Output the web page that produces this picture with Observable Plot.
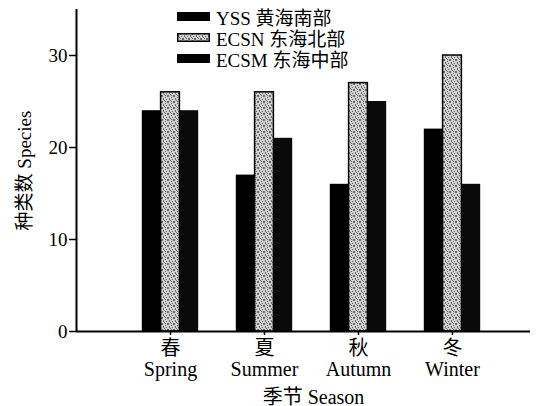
<!DOCTYPE html>
<html>
<head>
<meta charset="utf-8">
<script src="https://cdn.jsdelivr.net/npm/d3@7"></script>
<script src="https://cdn.jsdelivr.net/npm/@observablehq/plot@0.6"></script>
<style>
  html, body { margin: 0; padding: 0; background: #fff; }
  #wrap { position: relative; width: 546px; height: 406px; font-family: "Liberation Serif", "Noto Sans CJK SC", serif; }
  #legend { position: absolute; left: 177px; top: 6px; font-size: 19px; color: #000; }
  .row { display: flex; align-items: center; height: 21px; }
  .sw { width: 33px; height: 9px; margin-right: 6px; box-sizing: border-box; }
</style>
</head>
<body>
<div id="wrap"><div id="legend"></div></div>
<script>
// ---- data ----
const seasonsCN = ["春", "夏", "秋", "冬"];
const seasonsEN = ["Spring", "Summer", "Autumn", "Winter"];
const seriesNames = ["YSS 黄海南部", "ECSN 东海北部", "ECSM 东海中部"];
const yss  = [24, 17, 16, 22];
const ecsn = [26, 26, 27, 30];
const ecsm = [24, 21, 25, 16];
const yTicks = [0, 10, 20, 30];
const yLabel = "种类数 Species";
const xLabel = "季节 Season";

const seriesValues = [yss, ecsn, ecsm];
const fills = ["#000", "url(#stipple)", "#0a0a0a"];
const barW = 0.2;
const offsets = [-0.3, -0.1, 0.1];

const tables = seriesValues.map((vals, s) =>
  vals.map((v, i) => ({season: i + 1, series: seriesNames[s], value: v, s})));

const font = '"Liberation Serif", "Noto Sans CJK SC", serif';

const chart = Plot.plot({
  width: 546,
  height: 406,
  marginLeft: 76,
  marginRight: 16,
  marginTop: 9,
  marginBottom: 75,
  style: {fontFamily: font, color: "#000", background: "#fff", overflow: "visible"},
  x: {domain: [0, 4.83]},
  y: {domain: [0, 35]},
  marks: [
    ...tables.map((t, s) => Plot.rectY(t, {
      x1: d => d.season + offsets[s],
      x2: d => d.season + offsets[s] + barW,
      y: "value",
      fill: fills[s],
      stroke: s === 1 ? "#000" : "none",
      strokeWidth: 1.5
    })),
    Plot.ruleY([0], {stroke: "#000", strokeWidth: 2}),
    Plot.ruleX([0], {stroke: "#000", strokeWidth: 2}),
    Plot.axisY({ticks: yTicks, tickSize: 7, tickPadding: 2, fontSize: 19, label: null, strokeWidth: 1.5}),
    Plot.axisX({
      ticks: [1, 2, 3, 4],
      tickFormat: d => seasonsCN[d - 1] + "\n" + seasonsEN[d - 1],
      tickSize: 4, tickPadding: 5, fontSize: 20, lineHeight: 1.05, label: null, strokeWidth: 1.5
    }),
    Plot.text([yLabel], {text: d => d, frameAnchor: "left", textAnchor: "middle", lineAnchor: "middle",
      rotate: -90, dx: -52, fontSize: 19}),
    Plot.text([xLabel], {text: d => d, frameAnchor: "bottom", lineAnchor: "bottom", dx: 10, dy: 72, fontSize: 20})
  ]
});

// stipple pattern for ECSN bars
const svgNS = "http://www.w3.org/2000/svg";
const speckles = [[0,0],[3,1],[5,0],[1,2],[4,3],[2,4],[5,5],[0,5],[3,5],[1,3]];
function addPattern(svg) {
  const defs = document.createElementNS(svgNS, "defs");
  const p = document.createElementNS(svgNS, "pattern");
  p.setAttribute("id", "stipple");
  p.setAttribute("width", "6"); p.setAttribute("height", "6");
  p.setAttribute("patternUnits", "userSpaceOnUse");
  const bg = document.createElementNS(svgNS, "rect");
  bg.setAttribute("width", "6"); bg.setAttribute("height", "6"); bg.setAttribute("fill", "#cfcfcf");
  p.appendChild(bg);
  speckles.forEach(([x, y]) => {
    const r = document.createElementNS(svgNS, "rect");
    r.setAttribute("x", x); r.setAttribute("y", y);
    r.setAttribute("width", "1"); r.setAttribute("height", "1"); r.setAttribute("fill", "#6a6a6a");
    p.appendChild(r);
  });
  defs.appendChild(p);
  svg.insertBefore(defs, svg.firstChild);
}
addPattern(chart);
document.getElementById("wrap").prepend(chart);

// legend
const legend = document.getElementById("legend");
seriesNames.forEach((name, s) => {
  const row = document.createElement("div");
  row.className = "row";
  const sw = document.createElement("div");
  sw.className = "sw";
  if (s === 1) {
    const svg = document.createElementNS(svgNS, "svg");
    svg.setAttribute("width", "33"); svg.setAttribute("height", "9");
    svg.style.display = "block";
    const r = document.createElementNS(svgNS, "rect");
    r.setAttribute("x", "0.75"); r.setAttribute("y", "0.75");
    r.setAttribute("width", "31.5"); r.setAttribute("height", "7.5");
    r.setAttribute("fill", "url(#stipple)"); r.setAttribute("stroke", "#000"); r.setAttribute("stroke-width", "1.5");
    svg.appendChild(r);
    sw.appendChild(svg);
  } else {
    sw.style.background = "#000";
  }
  const tx = document.createElement("span");
  tx.textContent = name;
  row.appendChild(sw); row.appendChild(tx);
  legend.appendChild(row);
});
</script>
</body>
</html>
